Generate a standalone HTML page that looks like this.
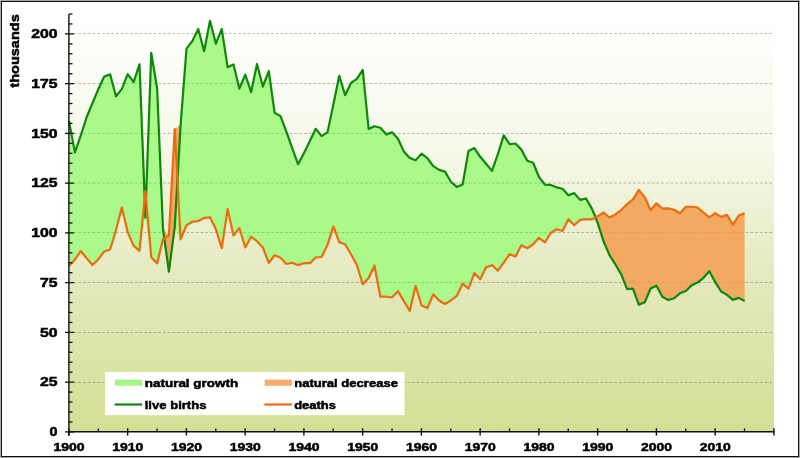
<!DOCTYPE html>
<html><head><meta charset="utf-8"><title>chart</title>
<style>html,body{margin:0;padding:0;background:#fff;width:800px;height:458px;overflow:hidden}svg{display:block;will-change:transform}</style>
</head><body>
<svg width="800" height="458" viewBox="0 0 800 458">
<defs>
<linearGradient id="bg" x1="0" y1="14" x2="0" y2="431" gradientUnits="userSpaceOnUse">
<stop offset="0" stop-color="#ffffff"/>
<stop offset="0.33" stop-color="#f6f8e8"/>
<stop offset="0.66" stop-color="#e2e8ba"/>
<stop offset="1" stop-color="#d4df94"/>
</linearGradient>
</defs>
<rect x="0" y="0" width="800" height="458" fill="#ffffff"/>
<rect x="69" y="14" width="705" height="417" fill="url(#bg)"/>
<clipPath id="cg"><polygon points="69.00,120.85 74.88,152.41 80.75,135.54 86.62,117.27 92.50,102.98 98.38,89.09 104.25,76.58 110.12,74.40 116.00,96.23 121.88,88.89 127.75,74.20 133.62,82.14 139.50,64.27 145.38,217.72 151.25,52.96 157.12,88.49 163.00,229.03 168.88,271.71 174.75,227.04 180.62,124.82 186.50,48.59 192.38,41.05 198.25,28.94 204.12,51.17 210.00,20.80 215.88,43.63 221.75,28.94 227.62,67.25 233.50,64.47 239.38,88.69 245.25,74.60 251.12,92.06 257.00,64.08 262.88,86.51 268.75,71.02 274.62,112.71 280.50,116.08 286.38,131.76 292.25,148.24 298.12,164.32 304.00,153.00 309.88,141.09 315.75,128.79 321.62,136.13 327.50,132.36 333.38,104.57 339.25,75.79 345.12,95.24 351.00,82.93 356.88,78.96 362.75,69.83 368.62,128.99 374.50,126.21 380.38,127.79 386.25,134.35 392.12,132.36 398.00,138.71 403.88,151.62 409.75,157.97 415.62,160.35 421.50,153.60 427.38,158.17 433.25,166.11 439.12,169.88 445.00,171.66 450.88,181.79 456.75,186.95 462.62,184.57 468.50,151.02 474.38,148.04 480.25,156.78 486.12,163.72 492.00,170.87 497.88,154.20 503.75,135.34 509.62,144.27 515.50,143.48 521.38,149.63 527.25,160.75 533.12,162.73 539.00,177.02 544.88,184.57 550.75,184.96 556.62,187.34 562.50,188.73 568.38,195.28 574.25,193.10 580.12,199.85 586.00,198.46 591.88,208.58 597.75,223.05 603.62,241.56 609.50,255.09 615.38,264.44 621.25,274.39 627.12,289.12 633.00,288.72 638.88,304.84 644.75,302.25 650.62,288.52 656.50,285.74 662.38,296.68 668.25,300.06 674.12,298.27 680.00,293.30 685.88,290.91 691.75,285.14 697.62,282.55 703.50,277.78 709.38,271.21 715.25,282.15 721.12,291.51 727.00,294.89 732.88,299.87 738.75,297.88 744.62,301.06 744.62,301.06 738.75,297.88 732.88,299.87 727.00,294.89 721.12,291.51 715.25,282.15 709.38,271.21 703.50,277.78 697.62,282.55 691.75,285.14 685.88,290.91 680.00,293.30 674.12,298.27 668.25,300.06 662.38,296.68 656.50,285.74 650.62,288.52 644.75,302.25 638.88,304.84 633.00,288.72 627.12,289.12 621.25,274.39 615.38,264.44 609.50,255.09 603.62,241.56 597.75,223.05 591.88,219.30 586.00,219.10 580.12,219.90 574.25,225.26 568.38,219.30 562.50,231.01 556.62,229.23 550.75,233.00 544.88,242.33 539.00,237.76 533.12,244.31 527.25,248.28 521.38,245.31 515.50,256.42 509.62,254.24 503.75,262.58 497.88,270.72 492.00,265.16 486.12,267.34 480.25,279.25 474.38,273.10 468.50,288.58 462.62,283.62 456.75,295.92 450.88,300.49 445.00,304.06 439.12,300.49 433.25,294.34 427.38,308.03 421.50,305.45 415.62,285.80 409.75,311.01 403.88,301.09 398.00,291.16 392.12,297.31 386.25,296.72 380.38,296.72 374.50,265.75 368.62,278.06 362.75,284.21 356.88,264.96 351.00,254.24 345.12,244.31 339.25,242.13 333.38,226.45 327.50,244.91 321.62,257.02 315.75,257.42 309.88,263.17 304.00,263.17 298.12,265.16 292.25,262.77 286.38,263.97 280.50,257.81 274.62,255.23 268.75,262.97 262.88,247.49 257.00,241.14 251.12,236.77 245.25,247.49 239.38,228.04 233.50,235.58 227.62,209.18 221.75,248.09 215.88,229.23 210.00,217.32 204.12,217.91 198.25,221.09 192.38,221.69 186.50,225.26 180.62,239.35 174.75,227.04 168.88,271.71 163.00,238.95 157.12,263.37 151.25,257.22 145.38,217.72 139.50,250.86 133.62,245.70 127.75,232.40 121.88,207.39 116.00,230.02 110.12,249.48 104.25,251.46 98.38,259.20 92.50,264.96 86.62,258.21 80.75,251.06 74.88,259.60 69.00,265.95"/></clipPath><clipPath id="co"><polygon points="69.00,120.85 74.88,152.41 80.75,135.54 86.62,117.27 92.50,102.98 98.38,89.09 104.25,76.58 110.12,74.40 116.00,96.23 121.88,88.89 127.75,74.20 133.62,82.14 139.50,64.27 145.38,190.92 151.25,52.96 157.12,88.49 163.00,229.03 168.88,235.78 174.75,128.99 180.62,124.82 186.50,48.59 192.38,41.05 198.25,28.94 204.12,51.17 210.00,20.80 215.88,43.63 221.75,28.94 227.62,67.25 233.50,64.47 239.38,88.69 245.25,74.60 251.12,92.06 257.00,64.08 262.88,86.51 268.75,71.02 274.62,112.71 280.50,116.08 286.38,131.76 292.25,148.24 298.12,164.32 304.00,153.00 309.88,141.09 315.75,128.79 321.62,136.13 327.50,132.36 333.38,104.57 339.25,75.79 345.12,95.24 351.00,82.93 356.88,78.96 362.75,69.83 368.62,128.99 374.50,126.21 380.38,127.79 386.25,134.35 392.12,132.36 398.00,138.71 403.88,151.62 409.75,157.97 415.62,160.35 421.50,153.60 427.38,158.17 433.25,166.11 439.12,169.88 445.00,171.66 450.88,181.79 456.75,186.95 462.62,184.57 468.50,151.02 474.38,148.04 480.25,156.78 486.12,163.72 492.00,170.87 497.88,154.20 503.75,135.34 509.62,144.27 515.50,143.48 521.38,149.63 527.25,160.75 533.12,162.73 539.00,177.02 544.88,184.57 550.75,184.96 556.62,187.34 562.50,188.73 568.38,195.28 574.25,193.10 580.12,199.85 586.00,198.46 591.88,208.58 597.75,216.29 603.62,212.50 609.50,217.48 615.38,214.49 621.25,209.92 627.12,204.15 633.00,199.37 638.88,189.82 644.75,197.18 650.62,209.92 656.50,203.35 662.38,208.72 668.25,208.33 674.12,209.72 680.00,213.30 685.88,206.73 691.75,206.73 697.62,207.53 703.50,212.50 709.38,217.28 715.25,213.10 721.12,216.88 727.00,214.89 732.88,224.84 738.75,215.49 744.62,213.30 744.62,301.06 738.75,297.88 732.88,299.87 727.00,294.89 721.12,291.51 715.25,282.15 709.38,271.21 703.50,277.78 697.62,282.55 691.75,285.14 685.88,290.91 680.00,293.30 674.12,298.27 668.25,300.06 662.38,296.68 656.50,285.74 650.62,288.52 644.75,302.25 638.88,304.84 633.00,288.72 627.12,289.12 621.25,274.39 615.38,264.44 609.50,255.09 603.62,241.56 597.75,223.05 591.88,208.58 586.00,198.46 580.12,199.85 574.25,193.10 568.38,195.28 562.50,188.73 556.62,187.34 550.75,184.96 544.88,184.57 539.00,177.02 533.12,162.73 527.25,160.75 521.38,149.63 515.50,143.48 509.62,144.27 503.75,135.34 497.88,154.20 492.00,170.87 486.12,163.72 480.25,156.78 474.38,148.04 468.50,151.02 462.62,184.57 456.75,186.95 450.88,181.79 445.00,171.66 439.12,169.88 433.25,166.11 427.38,158.17 421.50,153.60 415.62,160.35 409.75,157.97 403.88,151.62 398.00,138.71 392.12,132.36 386.25,134.35 380.38,127.79 374.50,126.21 368.62,128.99 362.75,69.83 356.88,78.96 351.00,82.93 345.12,95.24 339.25,75.79 333.38,104.57 327.50,132.36 321.62,136.13 315.75,128.79 309.88,141.09 304.00,153.00 298.12,164.32 292.25,148.24 286.38,131.76 280.50,116.08 274.62,112.71 268.75,71.02 262.88,86.51 257.00,64.08 251.12,92.06 245.25,74.60 239.38,88.69 233.50,64.47 227.62,67.25 221.75,28.94 215.88,43.63 210.00,20.80 204.12,51.17 198.25,28.94 192.38,41.05 186.50,48.59 180.62,124.82 174.75,227.04 168.88,271.71 163.00,229.03 157.12,88.49 151.25,52.96 145.38,217.72 139.50,64.27 133.62,82.14 127.75,74.20 121.88,88.89 116.00,96.23 110.12,74.40 104.25,76.58 98.38,89.09 92.50,102.98 86.62,117.27 80.75,135.54 74.88,152.41 69.00,120.85"/></clipPath><g opacity="0.26"><line x1="73.75" y1="382.50" x2="773" y2="382.50" stroke="#000" stroke-width="1" stroke-dasharray="2.6 2.1"/><line x1="73.75" y1="332.50" x2="773" y2="332.50" stroke="#000" stroke-width="1" stroke-dasharray="2.6 2.1"/><line x1="73.75" y1="282.50" x2="773" y2="282.50" stroke="#000" stroke-width="1" stroke-dasharray="2.6 2.1"/><line x1="73.75" y1="232.50" x2="773" y2="232.50" stroke="#000" stroke-width="1" stroke-dasharray="2.6 2.1"/><line x1="73.75" y1="183.00" x2="773" y2="183.00" stroke="#000" stroke-width="1" stroke-dasharray="2.6 2.1"/><line x1="73.75" y1="133.50" x2="773" y2="133.50" stroke="#000" stroke-width="1" stroke-dasharray="2.6 2.1"/><line x1="73.75" y1="83.50" x2="773" y2="83.50" stroke="#000" stroke-width="1" stroke-dasharray="2.6 2.1"/><line x1="73.75" y1="33.50" x2="773" y2="33.50" stroke="#000" stroke-width="1" stroke-dasharray="2.6 2.1"/></g><polygon points="69.00,120.85 74.88,152.41 80.75,135.54 86.62,117.27 92.50,102.98 98.38,89.09 104.25,76.58 110.12,74.40 116.00,96.23 121.88,88.89 127.75,74.20 133.62,82.14 139.50,64.27 145.38,217.72 151.25,52.96 157.12,88.49 163.00,229.03 168.88,271.71 174.75,227.04 180.62,124.82 186.50,48.59 192.38,41.05 198.25,28.94 204.12,51.17 210.00,20.80 215.88,43.63 221.75,28.94 227.62,67.25 233.50,64.47 239.38,88.69 245.25,74.60 251.12,92.06 257.00,64.08 262.88,86.51 268.75,71.02 274.62,112.71 280.50,116.08 286.38,131.76 292.25,148.24 298.12,164.32 304.00,153.00 309.88,141.09 315.75,128.79 321.62,136.13 327.50,132.36 333.38,104.57 339.25,75.79 345.12,95.24 351.00,82.93 356.88,78.96 362.75,69.83 368.62,128.99 374.50,126.21 380.38,127.79 386.25,134.35 392.12,132.36 398.00,138.71 403.88,151.62 409.75,157.97 415.62,160.35 421.50,153.60 427.38,158.17 433.25,166.11 439.12,169.88 445.00,171.66 450.88,181.79 456.75,186.95 462.62,184.57 468.50,151.02 474.38,148.04 480.25,156.78 486.12,163.72 492.00,170.87 497.88,154.20 503.75,135.34 509.62,144.27 515.50,143.48 521.38,149.63 527.25,160.75 533.12,162.73 539.00,177.02 544.88,184.57 550.75,184.96 556.62,187.34 562.50,188.73 568.38,195.28 574.25,193.10 580.12,199.85 586.00,198.46 591.88,208.58 597.75,223.05 603.62,241.56 609.50,255.09 615.38,264.44 621.25,274.39 627.12,289.12 633.00,288.72 638.88,304.84 644.75,302.25 650.62,288.52 656.50,285.74 662.38,296.68 668.25,300.06 674.12,298.27 680.00,293.30 685.88,290.91 691.75,285.14 697.62,282.55 703.50,277.78 709.38,271.21 715.25,282.15 721.12,291.51 727.00,294.89 732.88,299.87 738.75,297.88 744.62,301.06 744.62,301.06 738.75,297.88 732.88,299.87 727.00,294.89 721.12,291.51 715.25,282.15 709.38,271.21 703.50,277.78 697.62,282.55 691.75,285.14 685.88,290.91 680.00,293.30 674.12,298.27 668.25,300.06 662.38,296.68 656.50,285.74 650.62,288.52 644.75,302.25 638.88,304.84 633.00,288.72 627.12,289.12 621.25,274.39 615.38,264.44 609.50,255.09 603.62,241.56 597.75,223.05 591.88,219.30 586.00,219.10 580.12,219.90 574.25,225.26 568.38,219.30 562.50,231.01 556.62,229.23 550.75,233.00 544.88,242.33 539.00,237.76 533.12,244.31 527.25,248.28 521.38,245.31 515.50,256.42 509.62,254.24 503.75,262.58 497.88,270.72 492.00,265.16 486.12,267.34 480.25,279.25 474.38,273.10 468.50,288.58 462.62,283.62 456.75,295.92 450.88,300.49 445.00,304.06 439.12,300.49 433.25,294.34 427.38,308.03 421.50,305.45 415.62,285.80 409.75,311.01 403.88,301.09 398.00,291.16 392.12,297.31 386.25,296.72 380.38,296.72 374.50,265.75 368.62,278.06 362.75,284.21 356.88,264.96 351.00,254.24 345.12,244.31 339.25,242.13 333.38,226.45 327.50,244.91 321.62,257.02 315.75,257.42 309.88,263.17 304.00,263.17 298.12,265.16 292.25,262.77 286.38,263.97 280.50,257.81 274.62,255.23 268.75,262.97 262.88,247.49 257.00,241.14 251.12,236.77 245.25,247.49 239.38,228.04 233.50,235.58 227.62,209.18 221.75,248.09 215.88,229.23 210.00,217.32 204.12,217.91 198.25,221.09 192.38,221.69 186.50,225.26 180.62,239.35 174.75,227.04 168.88,271.71 163.00,238.95 157.12,263.37 151.25,257.22 145.38,217.72 139.50,250.86 133.62,245.70 127.75,232.40 121.88,207.39 116.00,230.02 110.12,249.48 104.25,251.46 98.38,259.20 92.50,264.96 86.62,258.21 80.75,251.06 74.88,259.60 69.00,265.95" fill="#abf88b"/><polygon points="69.00,120.85 74.88,152.41 80.75,135.54 86.62,117.27 92.50,102.98 98.38,89.09 104.25,76.58 110.12,74.40 116.00,96.23 121.88,88.89 127.75,74.20 133.62,82.14 139.50,64.27 145.38,190.92 151.25,52.96 157.12,88.49 163.00,229.03 168.88,235.78 174.75,128.99 180.62,124.82 186.50,48.59 192.38,41.05 198.25,28.94 204.12,51.17 210.00,20.80 215.88,43.63 221.75,28.94 227.62,67.25 233.50,64.47 239.38,88.69 245.25,74.60 251.12,92.06 257.00,64.08 262.88,86.51 268.75,71.02 274.62,112.71 280.50,116.08 286.38,131.76 292.25,148.24 298.12,164.32 304.00,153.00 309.88,141.09 315.75,128.79 321.62,136.13 327.50,132.36 333.38,104.57 339.25,75.79 345.12,95.24 351.00,82.93 356.88,78.96 362.75,69.83 368.62,128.99 374.50,126.21 380.38,127.79 386.25,134.35 392.12,132.36 398.00,138.71 403.88,151.62 409.75,157.97 415.62,160.35 421.50,153.60 427.38,158.17 433.25,166.11 439.12,169.88 445.00,171.66 450.88,181.79 456.75,186.95 462.62,184.57 468.50,151.02 474.38,148.04 480.25,156.78 486.12,163.72 492.00,170.87 497.88,154.20 503.75,135.34 509.62,144.27 515.50,143.48 521.38,149.63 527.25,160.75 533.12,162.73 539.00,177.02 544.88,184.57 550.75,184.96 556.62,187.34 562.50,188.73 568.38,195.28 574.25,193.10 580.12,199.85 586.00,198.46 591.88,208.58 597.75,216.29 603.62,212.50 609.50,217.48 615.38,214.49 621.25,209.92 627.12,204.15 633.00,199.37 638.88,189.82 644.75,197.18 650.62,209.92 656.50,203.35 662.38,208.72 668.25,208.33 674.12,209.72 680.00,213.30 685.88,206.73 691.75,206.73 697.62,207.53 703.50,212.50 709.38,217.28 715.25,213.10 721.12,216.88 727.00,214.89 732.88,224.84 738.75,215.49 744.62,213.30 744.62,301.06 738.75,297.88 732.88,299.87 727.00,294.89 721.12,291.51 715.25,282.15 709.38,271.21 703.50,277.78 697.62,282.55 691.75,285.14 685.88,290.91 680.00,293.30 674.12,298.27 668.25,300.06 662.38,296.68 656.50,285.74 650.62,288.52 644.75,302.25 638.88,304.84 633.00,288.72 627.12,289.12 621.25,274.39 615.38,264.44 609.50,255.09 603.62,241.56 597.75,223.05 591.88,208.58 586.00,198.46 580.12,199.85 574.25,193.10 568.38,195.28 562.50,188.73 556.62,187.34 550.75,184.96 544.88,184.57 539.00,177.02 533.12,162.73 527.25,160.75 521.38,149.63 515.50,143.48 509.62,144.27 503.75,135.34 497.88,154.20 492.00,170.87 486.12,163.72 480.25,156.78 474.38,148.04 468.50,151.02 462.62,184.57 456.75,186.95 450.88,181.79 445.00,171.66 439.12,169.88 433.25,166.11 427.38,158.17 421.50,153.60 415.62,160.35 409.75,157.97 403.88,151.62 398.00,138.71 392.12,132.36 386.25,134.35 380.38,127.79 374.50,126.21 368.62,128.99 362.75,69.83 356.88,78.96 351.00,82.93 345.12,95.24 339.25,75.79 333.38,104.57 327.50,132.36 321.62,136.13 315.75,128.79 309.88,141.09 304.00,153.00 298.12,164.32 292.25,148.24 286.38,131.76 280.50,116.08 274.62,112.71 268.75,71.02 262.88,86.51 257.00,64.08 251.12,92.06 245.25,74.60 239.38,88.69 233.50,64.47 227.62,67.25 221.75,28.94 215.88,43.63 210.00,20.80 204.12,51.17 198.25,28.94 192.38,41.05 186.50,48.59 180.62,124.82 174.75,227.04 168.88,271.71 163.00,229.03 157.12,88.49 151.25,52.96 145.38,217.72 139.50,64.27 133.62,82.14 127.75,74.20 121.88,88.89 116.00,96.23 110.12,74.40 104.25,76.58 98.38,89.09 92.50,102.98 86.62,117.27 80.75,135.54 74.88,152.41 69.00,120.85" fill="#f2aa62"/><g opacity="0.32" clip-path="url(#cg)"><line x1="73.75" y1="382.50" x2="773" y2="382.50" stroke="#2a8a1a" stroke-width="1" stroke-dasharray="2.6 2.1"/><line x1="73.75" y1="332.50" x2="773" y2="332.50" stroke="#2a8a1a" stroke-width="1" stroke-dasharray="2.6 2.1"/><line x1="73.75" y1="282.50" x2="773" y2="282.50" stroke="#2a8a1a" stroke-width="1" stroke-dasharray="2.6 2.1"/><line x1="73.75" y1="232.50" x2="773" y2="232.50" stroke="#2a8a1a" stroke-width="1" stroke-dasharray="2.6 2.1"/><line x1="73.75" y1="183.00" x2="773" y2="183.00" stroke="#2a8a1a" stroke-width="1" stroke-dasharray="2.6 2.1"/><line x1="73.75" y1="133.50" x2="773" y2="133.50" stroke="#2a8a1a" stroke-width="1" stroke-dasharray="2.6 2.1"/><line x1="73.75" y1="83.50" x2="773" y2="83.50" stroke="#2a8a1a" stroke-width="1" stroke-dasharray="2.6 2.1"/><line x1="73.75" y1="33.50" x2="773" y2="33.50" stroke="#2a8a1a" stroke-width="1" stroke-dasharray="2.6 2.1"/></g><g opacity="0.07" clip-path="url(#co)"><line x1="73.75" y1="382.50" x2="773" y2="382.50" stroke="#000" stroke-width="1" stroke-dasharray="2.6 2.1"/><line x1="73.75" y1="332.50" x2="773" y2="332.50" stroke="#000" stroke-width="1" stroke-dasharray="2.6 2.1"/><line x1="73.75" y1="282.50" x2="773" y2="282.50" stroke="#000" stroke-width="1" stroke-dasharray="2.6 2.1"/><line x1="73.75" y1="232.50" x2="773" y2="232.50" stroke="#000" stroke-width="1" stroke-dasharray="2.6 2.1"/><line x1="73.75" y1="183.00" x2="773" y2="183.00" stroke="#000" stroke-width="1" stroke-dasharray="2.6 2.1"/><line x1="73.75" y1="133.50" x2="773" y2="133.50" stroke="#000" stroke-width="1" stroke-dasharray="2.6 2.1"/><line x1="73.75" y1="83.50" x2="773" y2="83.50" stroke="#000" stroke-width="1" stroke-dasharray="2.6 2.1"/><line x1="73.75" y1="33.50" x2="773" y2="33.50" stroke="#000" stroke-width="1" stroke-dasharray="2.6 2.1"/></g><polyline points="69.00,120.85 74.88,152.41 80.75,135.54 86.62,117.27 92.50,102.98 98.38,89.09 104.25,76.58 110.12,74.40 116.00,96.23 121.88,88.89 127.75,74.20 133.62,82.14 139.50,64.27 145.38,217.72 151.25,52.96 157.12,88.49 163.00,229.03 168.88,271.71 174.75,227.04 180.62,124.82 186.50,48.59 192.38,41.05 198.25,28.94 204.12,51.17 210.00,20.80 215.88,43.63 221.75,28.94 227.62,67.25 233.50,64.47 239.38,88.69 245.25,74.60 251.12,92.06 257.00,64.08 262.88,86.51 268.75,71.02 274.62,112.71 280.50,116.08 286.38,131.76 292.25,148.24 298.12,164.32 304.00,153.00 309.88,141.09 315.75,128.79 321.62,136.13 327.50,132.36 333.38,104.57 339.25,75.79 345.12,95.24 351.00,82.93 356.88,78.96 362.75,69.83 368.62,128.99 374.50,126.21 380.38,127.79 386.25,134.35 392.12,132.36 398.00,138.71 403.88,151.62 409.75,157.97 415.62,160.35 421.50,153.60 427.38,158.17 433.25,166.11 439.12,169.88 445.00,171.66 450.88,181.79 456.75,186.95 462.62,184.57 468.50,151.02 474.38,148.04 480.25,156.78 486.12,163.72 492.00,170.87 497.88,154.20 503.75,135.34 509.62,144.27 515.50,143.48 521.38,149.63 527.25,160.75 533.12,162.73 539.00,177.02 544.88,184.57 550.75,184.96 556.62,187.34 562.50,188.73 568.38,195.28 574.25,193.10 580.12,199.85 586.00,198.46 591.88,208.58 597.75,223.05 603.62,241.56 609.50,255.09 615.38,264.44 621.25,274.39 627.12,289.12 633.00,288.72 638.88,304.84 644.75,302.25 650.62,288.52 656.50,285.74 662.38,296.68 668.25,300.06 674.12,298.27 680.00,293.30 685.88,290.91 691.75,285.14 697.62,282.55 703.50,277.78 709.38,271.21 715.25,282.15 721.12,291.51 727.00,294.89 732.88,299.87 738.75,297.88 744.62,301.06" fill="none" stroke="#0f870f" stroke-width="2.2" stroke-linejoin="round"/><polyline points="69.00,265.95 74.88,259.60 80.75,251.06 86.62,258.21 92.50,264.96 98.38,259.20 104.25,251.46 110.12,249.48 116.00,230.02 121.88,207.39 127.75,232.40 133.62,245.70 139.50,250.86 145.38,190.92 151.25,257.22 157.12,263.37 163.00,238.95 168.88,235.78 174.75,128.99 180.62,239.35 186.50,225.26 192.38,221.69 198.25,221.09 204.12,217.91 210.00,217.32 215.88,229.23 221.75,248.09 227.62,209.18 233.50,235.58 239.38,228.04 245.25,247.49 251.12,236.77 257.00,241.14 262.88,247.49 268.75,262.97 274.62,255.23 280.50,257.81 286.38,263.97 292.25,262.77 298.12,265.16 304.00,263.17 309.88,263.17 315.75,257.42 321.62,257.02 327.50,244.91 333.38,226.45 339.25,242.13 345.12,244.31 351.00,254.24 356.88,264.96 362.75,284.21 368.62,278.06 374.50,265.75 380.38,296.72 386.25,296.72 392.12,297.31 398.00,291.16 403.88,301.09 409.75,311.01 415.62,285.80 421.50,305.45 427.38,308.03 433.25,294.34 439.12,300.49 445.00,304.06 450.88,300.49 456.75,295.92 462.62,283.62 468.50,288.58 474.38,273.10 480.25,279.25 486.12,267.34 492.00,265.16 497.88,270.72 503.75,262.58 509.62,254.24 515.50,256.42 521.38,245.31 527.25,248.28 533.12,244.31 539.00,237.76 544.88,242.33 550.75,233.00 556.62,229.23 562.50,231.01 568.38,219.30 574.25,225.26 580.12,219.90 586.00,219.10 591.88,219.30 597.75,216.29 603.62,212.50 609.50,217.48 615.38,214.49 621.25,209.92 627.12,204.15 633.00,199.37 638.88,189.82 644.75,197.18 650.62,209.92 656.50,203.35 662.38,208.72 668.25,208.33 674.12,209.72 680.00,213.30 685.88,206.73 691.75,206.73 697.62,207.53 703.50,212.50 709.38,217.28 715.25,213.10 721.12,216.88 727.00,214.89 732.88,224.84 738.75,215.49 744.62,213.30" fill="none" stroke="#ea6c10" stroke-width="2.2" stroke-linejoin="round"/><line x1="68.9" y1="14" x2="68.9" y2="436" stroke="#111111" stroke-width="1.4"/><line x1="68.2" y1="431.7" x2="774.5" y2="431.7" stroke="#111111" stroke-width="1.5"/><line x1="65" y1="431.90" x2="74" y2="431.90" stroke="#111111" stroke-width="1.3"/><line x1="69" y1="421.95" x2="72.5" y2="421.95" stroke="#111111" stroke-width="1.3"/><line x1="69" y1="412.00" x2="72.5" y2="412.00" stroke="#111111" stroke-width="1.3"/><line x1="69" y1="402.05" x2="72.5" y2="402.05" stroke="#111111" stroke-width="1.3"/><line x1="69" y1="392.10" x2="72.5" y2="392.10" stroke="#111111" stroke-width="1.3"/><line x1="65" y1="382.15" x2="74" y2="382.15" stroke="#111111" stroke-width="1.3"/><line x1="69" y1="372.20" x2="72.5" y2="372.20" stroke="#111111" stroke-width="1.3"/><line x1="69" y1="362.25" x2="72.5" y2="362.25" stroke="#111111" stroke-width="1.3"/><line x1="69" y1="352.30" x2="72.5" y2="352.30" stroke="#111111" stroke-width="1.3"/><line x1="69" y1="342.35" x2="72.5" y2="342.35" stroke="#111111" stroke-width="1.3"/><line x1="65" y1="332.40" x2="74" y2="332.40" stroke="#111111" stroke-width="1.3"/><line x1="69" y1="322.45" x2="72.5" y2="322.45" stroke="#111111" stroke-width="1.3"/><line x1="69" y1="312.50" x2="72.5" y2="312.50" stroke="#111111" stroke-width="1.3"/><line x1="69" y1="302.55" x2="72.5" y2="302.55" stroke="#111111" stroke-width="1.3"/><line x1="69" y1="292.60" x2="72.5" y2="292.60" stroke="#111111" stroke-width="1.3"/><line x1="65" y1="282.65" x2="74" y2="282.65" stroke="#111111" stroke-width="1.3"/><line x1="69" y1="272.70" x2="72.5" y2="272.70" stroke="#111111" stroke-width="1.3"/><line x1="69" y1="262.75" x2="72.5" y2="262.75" stroke="#111111" stroke-width="1.3"/><line x1="69" y1="252.80" x2="72.5" y2="252.80" stroke="#111111" stroke-width="1.3"/><line x1="69" y1="242.85" x2="72.5" y2="242.85" stroke="#111111" stroke-width="1.3"/><line x1="65" y1="232.90" x2="74" y2="232.90" stroke="#111111" stroke-width="1.3"/><line x1="69" y1="222.95" x2="72.5" y2="222.95" stroke="#111111" stroke-width="1.3"/><line x1="69" y1="213.00" x2="72.5" y2="213.00" stroke="#111111" stroke-width="1.3"/><line x1="69" y1="203.05" x2="72.5" y2="203.05" stroke="#111111" stroke-width="1.3"/><line x1="69" y1="193.10" x2="72.5" y2="193.10" stroke="#111111" stroke-width="1.3"/><line x1="65" y1="183.15" x2="74" y2="183.15" stroke="#111111" stroke-width="1.3"/><line x1="69" y1="173.20" x2="72.5" y2="173.20" stroke="#111111" stroke-width="1.3"/><line x1="69" y1="163.25" x2="72.5" y2="163.25" stroke="#111111" stroke-width="1.3"/><line x1="69" y1="153.30" x2="72.5" y2="153.30" stroke="#111111" stroke-width="1.3"/><line x1="69" y1="143.35" x2="72.5" y2="143.35" stroke="#111111" stroke-width="1.3"/><line x1="65" y1="133.40" x2="74" y2="133.40" stroke="#111111" stroke-width="1.3"/><line x1="69" y1="123.45" x2="72.5" y2="123.45" stroke="#111111" stroke-width="1.3"/><line x1="69" y1="113.50" x2="72.5" y2="113.50" stroke="#111111" stroke-width="1.3"/><line x1="69" y1="103.55" x2="72.5" y2="103.55" stroke="#111111" stroke-width="1.3"/><line x1="69" y1="93.60" x2="72.5" y2="93.60" stroke="#111111" stroke-width="1.3"/><line x1="65" y1="83.65" x2="74" y2="83.65" stroke="#111111" stroke-width="1.3"/><line x1="69" y1="73.70" x2="72.5" y2="73.70" stroke="#111111" stroke-width="1.3"/><line x1="69" y1="63.75" x2="72.5" y2="63.75" stroke="#111111" stroke-width="1.3"/><line x1="69" y1="53.80" x2="72.5" y2="53.80" stroke="#111111" stroke-width="1.3"/><line x1="69" y1="43.85" x2="72.5" y2="43.85" stroke="#111111" stroke-width="1.3"/><line x1="65" y1="33.90" x2="74" y2="33.90" stroke="#111111" stroke-width="1.3"/><line x1="69" y1="23.95" x2="72.5" y2="23.95" stroke="#111111" stroke-width="1.3"/><line x1="69" y1="14.00" x2="72.5" y2="14.00" stroke="#111111" stroke-width="1.3"/><line x1="68.90" y1="428.2" x2="68.90" y2="435.6" stroke="#111111" stroke-width="1.4"/><line x1="98.28" y1="428.4" x2="98.28" y2="431" stroke="#111111" stroke-width="1.3"/><line x1="127.65" y1="428.2" x2="127.65" y2="435.6" stroke="#111111" stroke-width="1.4"/><line x1="157.03" y1="428.4" x2="157.03" y2="431" stroke="#111111" stroke-width="1.3"/><line x1="186.40" y1="428.2" x2="186.40" y2="435.6" stroke="#111111" stroke-width="1.4"/><line x1="215.78" y1="428.4" x2="215.78" y2="431" stroke="#111111" stroke-width="1.3"/><line x1="245.15" y1="428.2" x2="245.15" y2="435.6" stroke="#111111" stroke-width="1.4"/><line x1="274.52" y1="428.4" x2="274.52" y2="431" stroke="#111111" stroke-width="1.3"/><line x1="303.90" y1="428.2" x2="303.90" y2="435.6" stroke="#111111" stroke-width="1.4"/><line x1="333.27" y1="428.4" x2="333.27" y2="431" stroke="#111111" stroke-width="1.3"/><line x1="362.65" y1="428.2" x2="362.65" y2="435.6" stroke="#111111" stroke-width="1.4"/><line x1="392.02" y1="428.4" x2="392.02" y2="431" stroke="#111111" stroke-width="1.3"/><line x1="421.40" y1="428.2" x2="421.40" y2="435.6" stroke="#111111" stroke-width="1.4"/><line x1="450.77" y1="428.4" x2="450.77" y2="431" stroke="#111111" stroke-width="1.3"/><line x1="480.15" y1="428.2" x2="480.15" y2="435.6" stroke="#111111" stroke-width="1.4"/><line x1="509.52" y1="428.4" x2="509.52" y2="431" stroke="#111111" stroke-width="1.3"/><line x1="538.90" y1="428.2" x2="538.90" y2="435.6" stroke="#111111" stroke-width="1.4"/><line x1="568.27" y1="428.4" x2="568.27" y2="431" stroke="#111111" stroke-width="1.3"/><line x1="597.65" y1="428.2" x2="597.65" y2="435.6" stroke="#111111" stroke-width="1.4"/><line x1="627.02" y1="428.4" x2="627.02" y2="431" stroke="#111111" stroke-width="1.3"/><line x1="656.40" y1="428.2" x2="656.40" y2="435.6" stroke="#111111" stroke-width="1.4"/><line x1="685.77" y1="428.4" x2="685.77" y2="431" stroke="#111111" stroke-width="1.3"/><line x1="715.15" y1="428.2" x2="715.15" y2="435.6" stroke="#111111" stroke-width="1.4"/><line x1="744.52" y1="428.4" x2="744.52" y2="431" stroke="#111111" stroke-width="1.3"/><line x1="773.90" y1="428.2" x2="773.90" y2="435.6" stroke="#111111" stroke-width="1.4"/><text x="57.5" y="436.00" font-family="Liberation Sans, sans-serif" font-weight="bold" fill="#000" stroke="#000" stroke-width="0.5" font-size="12.4" text-anchor="end" textLength="8.0" lengthAdjust="spacingAndGlyphs">0</text><text x="57.5" y="386.25" font-family="Liberation Sans, sans-serif" font-weight="bold" fill="#000" stroke="#000" stroke-width="0.5" font-size="12.4" text-anchor="end" textLength="17.6" lengthAdjust="spacingAndGlyphs">25</text><text x="57.5" y="336.50" font-family="Liberation Sans, sans-serif" font-weight="bold" fill="#000" stroke="#000" stroke-width="0.5" font-size="12.4" text-anchor="end" textLength="17.6" lengthAdjust="spacingAndGlyphs">50</text><text x="57.5" y="286.75" font-family="Liberation Sans, sans-serif" font-weight="bold" fill="#000" stroke="#000" stroke-width="0.5" font-size="12.4" text-anchor="end" textLength="17.6" lengthAdjust="spacingAndGlyphs">75</text><text x="57.5" y="237.00" font-family="Liberation Sans, sans-serif" font-weight="bold" fill="#000" stroke="#000" stroke-width="0.5" font-size="12.4" text-anchor="end" textLength="26.3" lengthAdjust="spacingAndGlyphs">100</text><text x="57.5" y="187.25" font-family="Liberation Sans, sans-serif" font-weight="bold" fill="#000" stroke="#000" stroke-width="0.5" font-size="12.4" text-anchor="end" textLength="26.3" lengthAdjust="spacingAndGlyphs">125</text><text x="57.5" y="137.50" font-family="Liberation Sans, sans-serif" font-weight="bold" fill="#000" stroke="#000" stroke-width="0.5" font-size="12.4" text-anchor="end" textLength="26.3" lengthAdjust="spacingAndGlyphs">150</text><text x="57.5" y="87.75" font-family="Liberation Sans, sans-serif" font-weight="bold" fill="#000" stroke="#000" stroke-width="0.5" font-size="12.4" text-anchor="end" textLength="26.3" lengthAdjust="spacingAndGlyphs">175</text><text x="57.5" y="38.00" font-family="Liberation Sans, sans-serif" font-weight="bold" fill="#000" stroke="#000" stroke-width="0.5" font-size="12.4" text-anchor="end" textLength="26.3" lengthAdjust="spacingAndGlyphs">200</text><text x="69.00" y="450.7" font-family="Liberation Sans, sans-serif" font-weight="bold" fill="#000" stroke="#000" stroke-width="0.5" font-size="11.4" text-anchor="middle" textLength="31" lengthAdjust="spacingAndGlyphs">1900</text><text x="127.75" y="450.7" font-family="Liberation Sans, sans-serif" font-weight="bold" fill="#000" stroke="#000" stroke-width="0.5" font-size="11.4" text-anchor="middle" textLength="31" lengthAdjust="spacingAndGlyphs">1910</text><text x="186.50" y="450.7" font-family="Liberation Sans, sans-serif" font-weight="bold" fill="#000" stroke="#000" stroke-width="0.5" font-size="11.4" text-anchor="middle" textLength="31" lengthAdjust="spacingAndGlyphs">1920</text><text x="245.25" y="450.7" font-family="Liberation Sans, sans-serif" font-weight="bold" fill="#000" stroke="#000" stroke-width="0.5" font-size="11.4" text-anchor="middle" textLength="31" lengthAdjust="spacingAndGlyphs">1930</text><text x="304.00" y="450.7" font-family="Liberation Sans, sans-serif" font-weight="bold" fill="#000" stroke="#000" stroke-width="0.5" font-size="11.4" text-anchor="middle" textLength="31" lengthAdjust="spacingAndGlyphs">1940</text><text x="362.75" y="450.7" font-family="Liberation Sans, sans-serif" font-weight="bold" fill="#000" stroke="#000" stroke-width="0.5" font-size="11.4" text-anchor="middle" textLength="31" lengthAdjust="spacingAndGlyphs">1950</text><text x="421.50" y="450.7" font-family="Liberation Sans, sans-serif" font-weight="bold" fill="#000" stroke="#000" stroke-width="0.5" font-size="11.4" text-anchor="middle" textLength="31" lengthAdjust="spacingAndGlyphs">1960</text><text x="480.25" y="450.7" font-family="Liberation Sans, sans-serif" font-weight="bold" fill="#000" stroke="#000" stroke-width="0.5" font-size="11.4" text-anchor="middle" textLength="31" lengthAdjust="spacingAndGlyphs">1970</text><text x="539.00" y="450.7" font-family="Liberation Sans, sans-serif" font-weight="bold" fill="#000" stroke="#000" stroke-width="0.5" font-size="11.4" text-anchor="middle" textLength="31" lengthAdjust="spacingAndGlyphs">1980</text><text x="597.75" y="450.7" font-family="Liberation Sans, sans-serif" font-weight="bold" fill="#000" stroke="#000" stroke-width="0.5" font-size="11.4" text-anchor="middle" textLength="31" lengthAdjust="spacingAndGlyphs">1990</text><text x="656.50" y="450.7" font-family="Liberation Sans, sans-serif" font-weight="bold" fill="#000" stroke="#000" stroke-width="0.5" font-size="11.4" text-anchor="middle" textLength="31" lengthAdjust="spacingAndGlyphs">2000</text><text x="715.25" y="450.7" font-family="Liberation Sans, sans-serif" font-weight="bold" fill="#000" stroke="#000" stroke-width="0.5" font-size="11.4" text-anchor="middle" textLength="31" lengthAdjust="spacingAndGlyphs">2010</text><text transform="translate(19.3,51.0) rotate(-90)" font-family="Liberation Sans, sans-serif" font-weight="bold" fill="#000" stroke="#000" stroke-width="0.5" font-size="13.4" text-anchor="middle" textLength="73.4" lengthAdjust="spacingAndGlyphs">thousands</text><rect x="105" y="372" width="299.5" height="43.2" fill="#ffffff"/><rect x="115" y="379.6" width="27.2" height="6.2" fill="#a6f589"/><rect x="264.6" y="379.6" width="27.4" height="6.2" fill="#f8ac6e"/><line x1="114.6" y1="404.5" x2="142.1" y2="404.5" stroke="#0f870f" stroke-width="2.2"/><line x1="264.4" y1="404.5" x2="291.9" y2="404.5" stroke="#ea6c10" stroke-width="2.2"/><text x="144.7" y="386.5" font-family="Liberation Sans, sans-serif" font-weight="bold" fill="#000" stroke="#000" stroke-width="0.5" font-size="11.5" textLength="93.6" lengthAdjust="spacingAndGlyphs">natural growth</text><text x="144.7" y="409.0" font-family="Liberation Sans, sans-serif" font-weight="bold" fill="#000" stroke="#000" stroke-width="0.5" font-size="11.5" textLength="61.8" lengthAdjust="spacingAndGlyphs">live births</text><text x="294.2" y="386.5" font-family="Liberation Sans, sans-serif" font-weight="bold" fill="#000" stroke="#000" stroke-width="0.5" font-size="11.5" textLength="103.8" lengthAdjust="spacingAndGlyphs">natural decrease</text><text x="294.2" y="409.0" font-family="Liberation Sans, sans-serif" font-weight="bold" fill="#000" stroke="#000" stroke-width="0.5" font-size="11.5" textLength="41.8" lengthAdjust="spacingAndGlyphs">deaths</text><rect x="0.5" y="0.5" width="799" height="457" fill="none" stroke="#a8a8a8" stroke-width="1"/><rect x="1.5" y="1.5" width="797" height="455" fill="none" stroke="#111111" stroke-width="1"/></svg>
</body></html>
